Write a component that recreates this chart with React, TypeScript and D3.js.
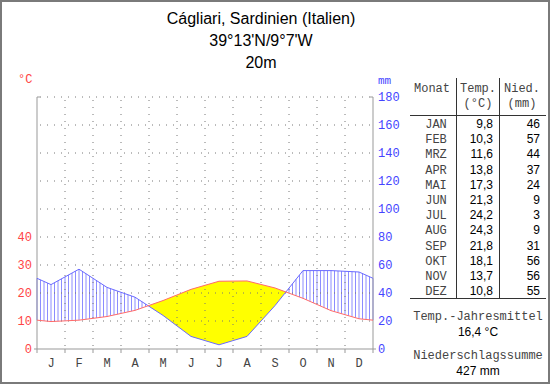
import React from "react";
import * as d3 from "d3";

const months = ["J", "F", "M", "A", "M", "J", "J", "A", "S", "O", "N", "D"];
const monthNames = ["JAN", "FEB", "MRZ", "APR", "MAI", "JUN", "JUL", "AUG", "SEP", "OKT", "NOV", "DEZ"];
const temps = [9.8, 10.3, 11.6, 13.8, 17.3, 21.3, 24.2, 24.3, 21.8, 18.1, 13.7, 10.8];
const precip = [46, 57, 44, 37, 24, 9, 3, 9, 31, 56, 56, 55];
const tempTicks = [0, 10, 20, 30, 40];
const precipTicks = [0, 20, 40, 60, 80, 100, 120, 140, 160, 180];
const titleLines = ["Cágliari, Sardinien (Italien)", "39°13'N/9°7'W", "20m"];
const annualTemp = "16,4 °C";
const annualPrecip = "427 mm";

const fmt = (v: number) => v.toFixed(1).replace(".", ",");

export default function App() {
  const W = 550, H = 384;
  const x0 = 37, x1 = 373, yBottom = 349, yTop = 97;
  const x = d3.scaleLinear().domain([-0.5, 11.5]).range([x0, x1]);
  const yT = d3.scaleLinear().domain([0, 90]).range([yBottom, yTop]);
  const yP = d3.scaleLinear().domain([0, 180]).range([yBottom, yTop]);

  const edgeT = (temps[0] + temps[11]) / 2;
  const edgeP = (precip[0] + precip[11]) / 2;
  const tPts: [number, number][] = [[x(-0.5), yT(edgeT)], ...temps.map((t, i) => [x(i), yT(t)] as [number, number]), [x(11.5), yT(edgeT)]];
  const pPts: [number, number][] = [[x(-0.5), yP(edgeP)], ...precip.map((p, i) => [x(i), yP(p)] as [number, number]), [x(11.5), yP(edgeP)]];

  const interp = (pts: [number, number][], px: number) => {
    for (let i = 0; i < pts.length - 1; i++) {
      const [ax, ay] = pts[i];
      const [bx, by] = pts[i + 1];
      if (px >= ax && px <= bx) {
        const f = (px - ax) / (bx - ax);
        return ay + f * (by - ay);
      }
    }
    return pts[pts.length - 1][1];
  };

  const line = d3.line<[number, number]>().x(d => d[0]).y(d => d[1]);
  const tempArea = d3.area<[number, number]>().x(d => d[0]).y0(yBottom).y1(d => d[1]);
  const clipPath = `M${x0},${yTop} ` + pPts.map(p => `L${p[0]},${p[1]}`).join(" ") + ` L${x1},${yTop} Z`;

  const hatch: { x: number; a: number; b: number }[] = [];
  for (let hx = x0; hx <= x1 + 0.01; hx += 3.5) {
    const a = interp(pPts, hx);
    const b = interp(tPts, hx);
    if (a < b - 0.5) hatch.push({ x: hx, a, b });
  }

  const gridY = d3.range(10, 91, 10);
  const gridX = d3.range(1, 12);

  const mono = "'Liberation Mono', 'DejaVu Sans Mono', monospace";
  const sans = "'Liberation Sans', Arial, sans-serif";
  const rowY = (i: number) => 128 + i * 15.2;

  return (
    <div style={{ position: "fixed", left: 0, top: 0 }}>
      <svg width={W} height={H} style={{ display: "block", background: "#fff" }}>
        <rect x={1} y={1} width={W - 2} height={H - 2} fill="#fff" stroke="#7a7a7a" strokeWidth={2} />
        {titleLines.map((t, i) => (
          <text key={i} x={261} y={24 + i * 22.2} textAnchor="middle" fontFamily={sans} fontSize={16} fill="#000">{t}</text>
        ))}
        <text x={18} y={83} fontFamily={mono} fontSize={12} fill="#f44">°C</text>
        <text x={378} y={84} fontFamily={mono} fontSize={11} fill="#44f">mm</text>

        <g clipPath="url(#dryclip)">
          <path d={tempArea(tPts) || ""} fill="#ffff00" />
        </g>
        <defs>
          <clipPath id="dryclip"><path d={clipPath} /></clipPath>
        </defs>
        {hatch.map((h, i) => (
          <line key={i} x1={h.x} x2={h.x} y1={h.a} y2={h.b} stroke="#8c8cff" strokeWidth={1} />
        ))}

        {gridY.map(v => (
          <line key={"gy" + v} x1={x0 + 3} x2={x1} y1={yT(v)} y2={yT(v)} stroke="#777" strokeDasharray="1,6" />
        ))}
        {gridX.map(k => (
          <line key={"gx" + k} x1={x(k - 0.5)} x2={x(k - 0.5)} y1={yTop + 3} y2={yBottom} stroke="#777" strokeDasharray="1,6" />
        ))}

        <line x1={x0} x2={x0} y1={yTop} y2={yBottom} stroke="#999" />
        <line x1={x1} x2={x1} y1={yTop} y2={yBottom} stroke="#999" />
        <line x1={x0} x2={x1} y1={yBottom} y2={yBottom} stroke="#999" />
        <line x1={x0} x2={x0 + 3} y1={yTop} y2={yTop} stroke="#999" />
        <line x1={x1 - 3} x2={x1} y1={yTop} y2={yTop} stroke="#999" />
        <line x1={x0 - 3} x2={x0} y1={yBottom} y2={yBottom} stroke="#999" />
        <line x1={x1} x2={x1 + 3} y1={yBottom} y2={yBottom} stroke="#999" />
        {d3.range(0, 13).map(k => (
          <line key={"bt" + k} x1={x(k - 0.5)} x2={x(k - 0.5)} y1={yBottom} y2={yBottom + 4} stroke="#999" />
        ))}

        <path d={line(pPts) || ""} fill="none" stroke="#6a6aff" strokeWidth={1} />
        <path d={line(tPts) || ""} fill="none" stroke="#ff6a6a" strokeWidth={1} />

        {tempTicks.map(v => (
          <text key={"tt" + v} x={32} y={yT(v)} dy="0.35em" textAnchor="end" fontFamily={mono} fontSize={12} fill="#f44">{v}</text>
        ))}
        {precipTicks.map(v => (
          <text key={"pt" + v} x={378} y={yP(v)} dy="0.35em" textAnchor="start" fontFamily={mono} fontSize={12} fill="#44f">{v}</text>
        ))}
        {months.map((m, i) => (
          <text key={"m" + i} x={x(i)} y={367} textAnchor="middle" fontFamily={mono} fontSize={12} fill="#444">{m}</text>
        ))}

        {/* table */}
        <line x1={456.5} x2={456.5} y1={78} y2={298} stroke="#333" />
        <line x1={499.5} x2={499.5} y1={78} y2={298} stroke="#333" />
        <line x1={410} x2={546} y1={115.5} y2={115.5} stroke="#333" />
        <line x1={410} x2={546} y1={298.5} y2={298.5} stroke="#333" />
        <text x={432} y={92} textAnchor="middle" fontFamily={mono} fontSize={12} fill="#444">Monat</text>
        <text x={478} y={92} textAnchor="middle" fontFamily={mono} fontSize={12} fill="#444">Temp.</text>
        <text x={478} y={107} textAnchor="middle" fontFamily={mono} fontSize={12} fill="#444">(°C)</text>
        <text x={522} y={92} textAnchor="middle" fontFamily={mono} fontSize={12} fill="#444">Nied.</text>
        <text x={522} y={107} textAnchor="middle" fontFamily={mono} fontSize={12} fill="#444">(mm)</text>
        {monthNames.map((m, i) => (
          <g key={"row" + i}>
            <text x={436} y={rowY(i)} textAnchor="middle" fontFamily={mono} fontSize={12} fill="#444">{m}</text>
            <text x={493} y={rowY(i)} textAnchor="end" fontFamily={sans} fontSize={12} fill="#000">{fmt(temps[i])}</text>
            <text x={540} y={rowY(i)} textAnchor="end" fontFamily={sans} fontSize={12} fill="#000">{precip[i]}</text>
          </g>
        ))}
        <text x={478} y={320} textAnchor="middle" fontFamily={mono} fontSize={12} fill="#444">Temp.-Jahresmittel</text>
        <text x={478} y={336} textAnchor="middle" fontFamily={sans} fontSize={12} fill="#000">{annualTemp}</text>
        <text x={478} y={359} textAnchor="middle" fontFamily={mono} fontSize={12} fill="#444">Niederschlagssumme</text>
        <text x={478} y={375} textAnchor="middle" fontFamily={sans} fontSize={12} fill="#000">{annualPrecip}</text>
      </svg>
    </div>
  );
}
